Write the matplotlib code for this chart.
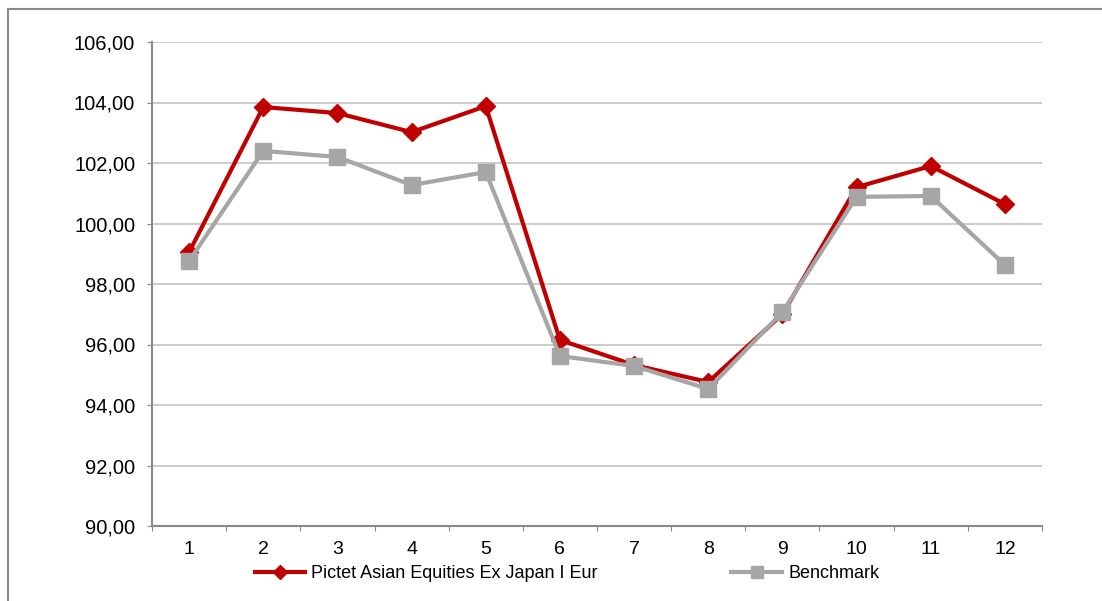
import matplotlib.pyplot as plt
from matplotlib.patches import Rectangle

# data
months = [1, 2, 3, 4, 5, 6, 7, 8, 9, 10, 11, 12]
fund = [99.05, 103.85, 103.65, 103.02, 103.88, 96.15, 95.32, 94.76, 97.0, 101.2, 101.9, 100.64]
benchmark = [98.76, 102.4, 102.2, 101.27, 101.7, 95.62, 95.29, 94.53, 97.07, 100.88, 100.91, 98.63]
y_ticks = [90, 92, 94, 96, 98, 100, 102, 104, 106]

plt.rcParams['font.family'] = ['Liberation Sans', 'DejaVu Sans']

fig = plt.figure(figsize=(11.02, 6.01), dpi=100)
ax = fig.add_axes([152 / 1102, 1 - 526 / 601, 890 / 1102, 484 / 601])

# outer chart frame (only top/left visible in the reference)
fig.patches.append(Rectangle((8 / 1102, -0.1), 1.2, 1 - 9 / 601 + 0.1,
                             transform=fig.transFigure, fill=False,
                             edgecolor='#8a8a8a', linewidth=1.5))

ax.plot(months, fund, color='#c00000', linewidth=3, marker='D', markersize=9,
        label='Pictet Asian Equities Ex Japan I Eur', zorder=2)
ax.plot(months, benchmark, color='#a6a6a6', linewidth=3, marker='s', markersize=11.5,
        label='Benchmark', zorder=3)

ax.set_xlim(0.5, 12.5)
ax.set_ylim(90, 106)
ax.set_yticks(y_ticks)
ax.set_yticklabels([f'{v:.2f}'.replace('.', ',') for v in y_ticks], fontsize=14.5)

# ticks sit between categories, labels in the middle
ax.set_xticks([m + 0.5 for m in [0] + months])
ax.set_xticklabels([])
ax.set_xticks(months, minor=True)
ax.set_xticklabels([str(m) for m in months], minor=True, fontsize=14)
ax.tick_params(axis='x', which='minor', length=0, pad=11)
ax.tick_params(axis='x', which='major', length=3.6, color='#8a8a8a', direction='out')
ax.tick_params(axis='y', length=3.6, color='#8a8a8a', direction='out', pad=8.5)

ax.grid(axis='y', color='#c4c4c4', linewidth=1.2)
ax.set_axisbelow(True)
for side in ['top', 'right']:
    ax.spines[side].set_visible(False)
for side in ['left', 'bottom']:
    ax.spines[side].set_color('#8a8a8a')
    ax.spines[side].set_linewidth(1.5)

leg = fig.legend(loc='center', bbox_to_anchor=(567 / 1102, 1 - 574 / 601), ncol=2,
                 frameon=False, fontsize=13, handlelength=2.8, handletextpad=0.33,
                 columnspacing=7.4, borderaxespad=0, markerscale=0.8)

fig.savefig('out.png', dpi=100)
